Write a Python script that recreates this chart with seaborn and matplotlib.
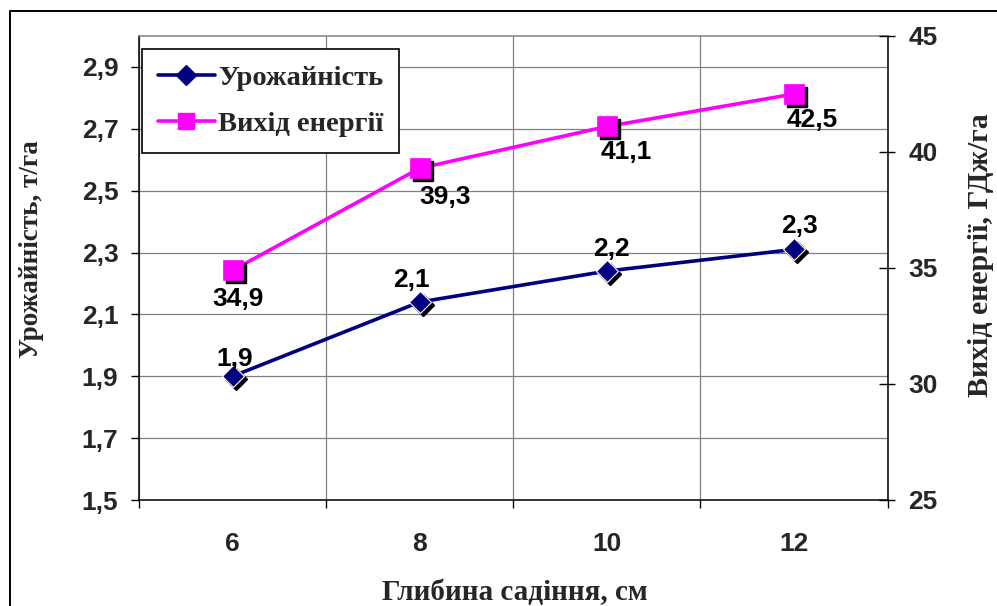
import matplotlib
matplotlib.use("Agg")
import matplotlib.pyplot as plt
import matplotlib.transforms as mtransforms
from matplotlib.lines import Line2D
from matplotlib.font_manager import FontProperties
import pandas as pd
import seaborn as sns

# --- data -------------------------------------------------------------
depth_cm = [6, 8, 10, 12]
yield_t_ha = [1.90, 2.14, 2.24, 2.31]
energy_gj_ha = [34.9, 39.3, 41.1, 42.5]

series_names = ["Урожайність", "Вихід енергії"]
x_title = "Глибина садіння, см"
y_left_title = "Урожайність, т/га"
y_right_title = "Вихід енергії, ГДж/га"
left_ticks = [1.5, 1.7, 1.9, 2.1, 2.3, 2.5, 2.7, 2.9]
right_ticks = [25, 30, 35, 40, 45]

# value-label nudges (pixels) relative to each marker
yield_label_nudge = [(2, 10), (-8, 15), (5, 15), (6, 16)]
energy_label_nudge = [(5, -36), (25, -36), (19, -33), (18, -33)]

NAVY = "#000080"
MAGENTA = "#FF00FF"
GRID = "#808080"
SANS = 19


def serif(size):
    return FontProperties(family="Liberation Serif", weight="bold", size=size)


def comma(v, nd=1):
    return f"{v:.{nd}f}".replace(".", ",")


sns.set_theme(style="white")
plt.rcParams["font.family"] = ["Liberation Sans", "DejaVu Sans"]
plt.rcParams["font.weight"] = "bold"

fig = plt.figure(figsize=(9.97, 6.06), dpi=100)
ax = fig.add_axes([139 / 997, 1 - 500 / 606, 748.5 / 997, 464 / 606])
ax2 = ax.twinx()

df = pd.DataFrame({"depth": depth_cm, "yield": yield_t_ha, "energy": energy_gj_ha})

sns.lineplot(data=df, x="depth", y="yield", ax=ax, color=NAVY, lw=2.6, zorder=3)
sns.lineplot(data=df, x="depth", y="energy", ax=ax2, color=MAGENTA, lw=2.6, zorder=3)

# markers with a dark drop shadow
sh1 = mtransforms.offset_copy(ax.transData, fig=fig, x=3, y=-3, units="dots")
sh2 = mtransforms.offset_copy(ax2.transData, fig=fig, x=3, y=-3, units="dots")
ax.plot(df["depth"], df["yield"], ls="none", marker="D", ms=11, color="black",
        transform=sh1, zorder=4)
ax.plot(df["depth"], df["yield"], ls="none", marker="D", ms=11, mfc=NAVY,
        mec="white", mew=0.8, zorder=5)
ax2.plot(df["depth"], df["energy"], ls="none", marker="s", ms=14, color="black",
         transform=sh2, zorder=4)
ax2.plot(df["depth"], df["energy"], ls="none", marker="s", ms=14, mfc=MAGENTA,
         mec=MAGENTA, mew=0.5, zorder=5)

# value labels
for x, y, (dx, dy) in zip(depth_cm, yield_t_ha, yield_label_nudge):
    ax.annotate(comma(y), xy=(x, y), xytext=(dx, dy), textcoords="offset pixels",
                ha="center", va="baseline", fontsize=SANS, fontweight="bold",
                color="black", zorder=6)
for x, y, (dx, dy) in zip(depth_cm, energy_gj_ha, energy_label_nudge):
    ax2.annotate(comma(y), xy=(x, y), xytext=(dx, dy), textcoords="offset pixels",
                 ha="center", va="baseline", fontsize=SANS, fontweight="bold",
                 color="black", zorder=6)

# scales
ax.set_xlim(5, 13)
ax.set_ylim(1.5, 3.0)
ax2.set_ylim(25, 45)

ax.set_xticks(depth_cm, labels=[str(d) for d in depth_cm])
ax.set_xticks([5, 7, 9, 11, 13], minor=True)
ax.set_yticks(left_ticks, labels=[comma(v) for v in left_ticks])
ax2.set_yticks(right_ticks, labels=[str(v) for v in right_ticks])

ax.tick_params(axis="x", which="major", length=0, pad=23, labelsize=SANS)
ax.tick_params(axis="x", which="minor", direction="out", length=5.8, width=1,
               color="black", bottom=True)
ax.tick_params(axis="y", which="major", direction="out", length=5.8, width=1,
               color="black", pad=9, labelsize=SANS, left=True)
ax2.tick_params(axis="y", which="major", direction="inout", length=12, width=1,
                color="black", pad=9, labelsize=SANS, right=True)
for lab in ax.get_xticklabels() + ax.get_yticklabels() + ax2.get_yticklabels():
    lab.set_fontweight("bold")

ax.xaxis.grid(True, which="minor", color=GRID, lw=0.9)
ax.yaxis.grid(True, which="major", color=GRID, lw=0.9)
ax.set_axisbelow(True)
ax2.grid(False)

ax.set_xlabel("")
ax.set_ylabel("")
ax2.set_ylabel("")

for name, sp in ax.spines.items():
    sp.set_visible(True)
    sp.set_color("black" if name != "top" else GRID)
    sp.set_linewidth(1.1)
for sp in ax2.spines.values():
    sp.set_visible(False)

# legend
handles = [
    Line2D([], [], color=NAVY, lw=2.6, marker="D", ms=10, mfc=NAVY, mec=NAVY),
    Line2D([], [], color=MAGENTA, lw=2.6, marker="s", ms=11, mfc=MAGENTA, mec=MAGENTA),
]
leg = ax2.legend(handles, series_names, loc="upper left",
                 bbox_to_anchor=(3 / 748.5, (500 - 49) / 464), borderaxespad=0,
                 frameon=True, fancybox=False, edgecolor="black", framealpha=1,
                 prop=serif(20.5), handlelength=2.0, handletextpad=0.12,
                 labelspacing=0.72, borderpad=0.55)
leg.get_frame().set_linewidth(1.2)
leg.set_zorder(10)

# axis titles
fig.text(32 / 997, 1 - 249 / 606, y_left_title, rotation=90, ha="center",
         va="center", fontproperties=serif(19.5))
fig.text(980 / 997, 1 - 255 / 606, y_right_title, rotation=90, ha="center",
         va="center", fontproperties=serif(21.5))
fig.text(515 / 997, 1 - 600 / 606, x_title, ha="center", va="baseline",
         fontproperties=serif(21))

# outer chart border
fig.add_artist(Line2D([9.5 / 997, 9.5 / 997], [0, 1 - 10.5 / 606],
                      transform=fig.transFigure, color="black", lw=1.4))
fig.add_artist(Line2D([9.5 / 997, 1], [1 - 10.5 / 606, 1 - 10.5 / 606],
                      transform=fig.transFigure, color="black", lw=1.4))

fig.savefig("out.png", dpi=100, facecolor="white")
